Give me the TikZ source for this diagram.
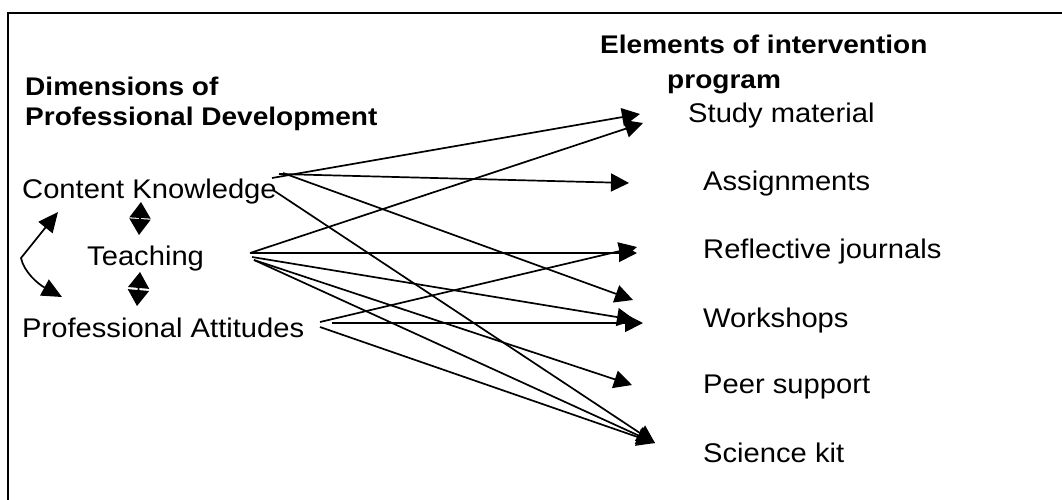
\documentclass[tikz,border=0pt]{standalone}
\usepackage{graphicx}
\usepackage{fontspec}
\setmainfont{Liberation Sans}
\usetikzlibrary{arrows.meta}
\newcommand\hsr[1]{\scalebox{1.08}[1]{#1}}
\newcommand\hsb[1]{\scalebox{1.10}[1]{#1}}
\tikzset{
  lbl/.style={anchor=base west, inner sep=0pt, font=\fontsize{27}{30}\selectfont},
  hdr/.style={anchor=base west, inner sep=0pt, font=\fontsize{25.5}{28}\selectfont\bfseries},
  conn/.style={line width=1.7pt, -{Triangle[length=18pt,width=18pt]}},
  dbl/.style={line width=1.7pt, {Triangle[length=16pt,width=21pt]}-{Triangle[length=16pt,width=21pt]}},
  curv/.style={line width=1.7pt, {Triangle[length=20pt,width=18pt]}-{Triangle[length=20pt,width=18pt]}},
  frame/.style={line width=2.5pt}
}
\begin{document}
\begin{tikzpicture}[x=1pt,y=-1pt]
\useasboundingbox (0,0) rectangle (1062,499);
\fill[white] (0,0) rectangle (1062,499);
\draw[frame] (1063,13) -- (8,13) -- (8,500);

% headers
\node[hdr] (h1) at (25,95) {\hsb{Dimensions of}};
\node[hdr] (h2) at (25,125) {\hsb{Professional Development}};
\node[hdr] (h3) at (600,53) {\hsb{Elements of intervention}};
\node[hdr] (h4) at (667,88) {\hsb{program}};

% left items
\node[lbl] (ck) at (22,198) {\hsr{Content Knowledge}};
\node[lbl] (te) at (87,265) {\hsr{Teaching}};
\node[lbl] (pa) at (22,337) {\hsr{Professional Attitudes}};

% right items
\node[lbl] (sm) at (688,122) {\hsr{Study material}};
\node[lbl] (as) at (703,190) {\hsr{Assignments}};
\node[lbl] (rj) at (703,258) {\hsr{Reflective journals}};
\node[lbl] (ws) at (703,327) {\hsr{Workshops}};
\node[lbl] (ps) at (703,393) {\hsr{Peer support}};
\node[lbl] (sk) at (703,462) {\hsr{Science kit}};

% start coordinates
\coordinate (ck1) at (272,178);
\coordinate (ck2) at (279,174);
\coordinate (ck3) at (283,173);
\coordinate (ck4) at (273,190);
\coordinate (te1) at (250,253);
\coordinate (te2) at (252,257);
\coordinate (te3) at (254,260);
\coordinate (pa1) at (320,322);
\coordinate (pa2) at (332,323);
\coordinate (pa3) at (320,327);

% arrow tips
\coordinate (smA) at (640,114);
\coordinate (smB) at (643,123);
\coordinate (asA) at (629,183);
\coordinate (rjA) at (637,247);
\coordinate (rjB) at (637,253);
\coordinate (wsA) at (633,300);
\coordinate (wsB) at (635,320);
\coordinate (wsC) at (643,323);
\coordinate (psA) at (632,385);
\coordinate (skA) at (655,443);

% connectors
\draw[conn] (ck1) -- (smA);
\draw[conn] (ck2) -- (asA);
\draw[conn] (ck3) -- (wsA);
\draw[conn] (ck4) -- (skA);
\draw[conn] (te1) -- (smB);
\draw[conn] (te1) -- (rjB);
\draw[conn] (te2) -- (wsB);
\draw[conn] (te3) -- (psA);
\draw[conn] (te3) -- (skA);
\draw[conn] (pa1) -- (rjA);
\draw[conn] (pa2) -- (wsC);
\draw[conn] (pa3) -- (skA);

% small arrows on the left
\coordinate (d1a) at (141,202);
\coordinate (d1b) at (139,235);
\coordinate (d2a) at (140,272);
\coordinate (d2b) at (137,306);
\draw[dbl] (d1a) -- (d1b);
\draw[dbl] (d2a) -- (d2b);

\coordinate (ca) at (58,212);
\coordinate (cc) at (21,258);
\coordinate (cb) at (62,297);
\draw[curv] (ca) -- (cc) .. controls (24,272) and (38,284) .. (cb);
\end{tikzpicture}
\end{document}
